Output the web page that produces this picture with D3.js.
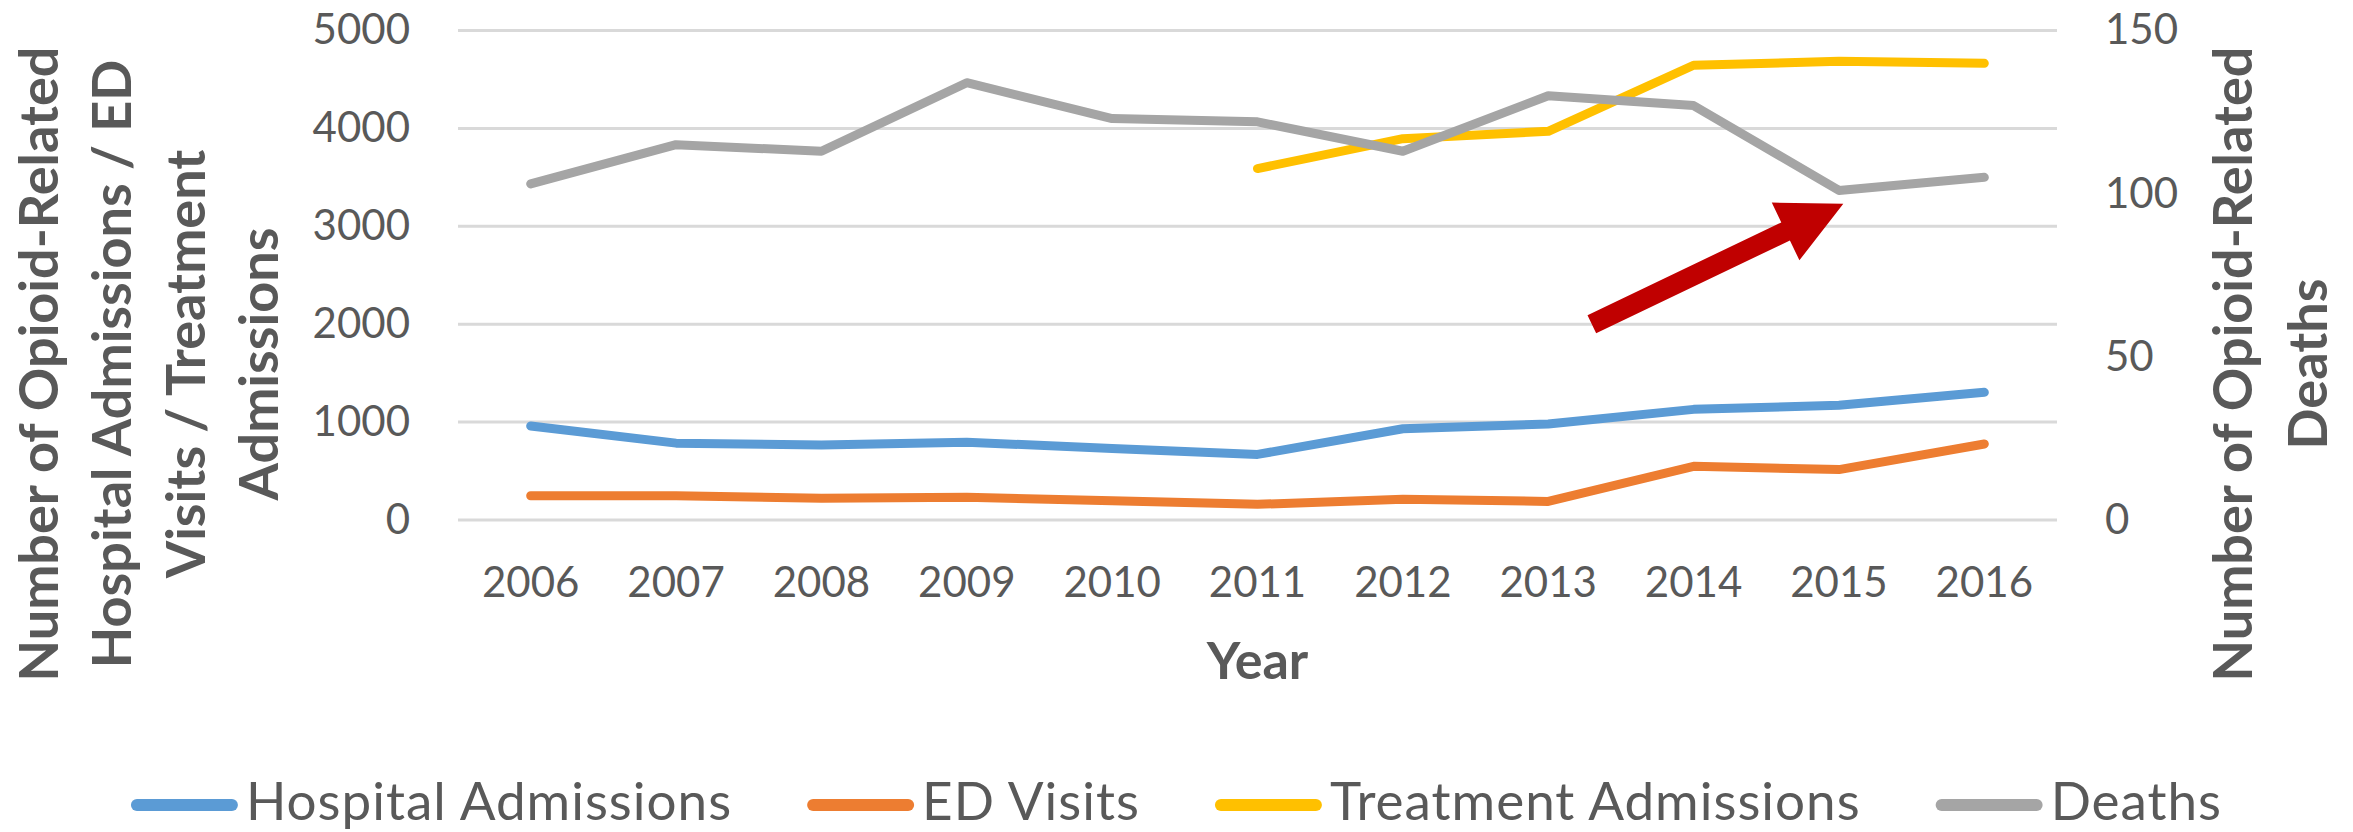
<!DOCTYPE html>
<html>
<head>
<meta charset="utf-8">
<script src="https://cdn.jsdelivr.net/npm/d3@7"></script>
<style>
  body { margin: 0; background: #fff; }
  text { font-family: Lato, "Open Sans", sans-serif; fill: #595959; }
</style>
</head>
<body>
<div id="chart"></div>
<script>
var width = 2353;
var height = 832;

// data
var years = [2006, 2007, 2008, 2009, 2010, 2011, 2012, 2013, 2014, 2015, 2016];
var hospital = [960, 785, 765, 795, 730, 670, 932, 980, 1130, 1172, 1304];
var edVisits = [248, 248, 222, 233, 197, 160, 211, 190, 548, 515, 776];
var treatment = [null, null, null, null, null, 3590, 3895, 3970, 4645, 4685, 4665];
var deaths = [103, 115, 113, 134, 123, 122, 113, 130, 127, 101, 105];

var leftTicks = [0, 1000, 2000, 3000, 4000, 5000];
var rightTicks = [0, 50, 100, 150];

var seriesNames = ["Hospital Admissions", "ED Visits", "Treatment Admissions", "Deaths"];
var seriesColors = ["#5B9BD5", "#ED7D31", "#FFC000", "#A5A5A5"];

var leftTitle = ["Number of Opioid-Related", "Hospital Admissions / ED", "Visits / Treatment", "Admissions"];
var rightTitle = ["Number of Opioid-Related", "Deaths"];

// red annotation arrow, in year / left-axis units
var arrowFrom = [2013.3, 2000];
var arrowTo = [2015.03, 3230];

var plot = { left: 458, right: 2057, top: 30.5, bottom: 520 };

var svg = d3
  .select("#chart")
  .append("svg")
  .attr("width", width)
  .attr("height", height);

var x = d3.scaleBand()
  .domain(years)
  .range([plot.left, plot.right]);
var bw = x.bandwidth();
var xYear = d3.scaleLinear()
  .domain([years[0], years[years.length - 1]])
  .range([x(years[0]) + bw / 2, x(years[years.length - 1]) + bw / 2]);

var yLeft = d3.scaleLinear().domain([0, 5000]).range([plot.bottom, plot.top]);
var yRight = d3.scaleLinear().domain([0, 150]).range([plot.bottom, plot.top]);

// gridlines
svg.append("g")
  .selectAll("line")
  .data(leftTicks)
  .enter()
  .append("line")
  .attr("x1", plot.left)
  .attr("x2", plot.right)
  .attr("y1", d => yLeft(d))
  .attr("y2", d => yLeft(d))
  .attr("stroke", "#D9D9D9")
  .attr("stroke-width", 3);

// left axis
var leftAxis = svg.append("g")
  .attr("transform", "translate(" + plot.left + ",0)")
  .call(d3.axisLeft(yLeft).tickValues(leftTicks).tickFormat(d3.format("d")).tickSize(0).tickPadding(48));
leftAxis.select(".domain").remove();
leftAxis.selectAll("text")
  .style("font-family", "Lato")
  .style("font-size", "42px")
  .attr("fill", "#595959");

// right axis
var rightAxis = svg.append("g")
  .attr("transform", "translate(" + plot.right + ",0)")
  .call(d3.axisRight(yRight).tickValues(rightTicks).tickFormat(d3.format("d")).tickSize(0).tickPadding(48));
rightAxis.select(".domain").remove();
rightAxis.selectAll("text")
  .style("font-family", "Lato")
  .style("font-size", "42px")
  .attr("fill", "#595959");

// x axis
var xAxis = svg.append("g")
  .attr("transform", "translate(0," + plot.bottom + ")")
  .call(d3.axisBottom(x).tickSize(0));
xAxis.select(".domain").remove();
xAxis.selectAll("text")
  .attr("y", 77)
  .attr("dy", 0)
  .style("font-family", "Lato")
  .style("font-size", "42px")
  .attr("fill", "#595959");

// axis titles
svg.append("text")
  .attr("x", (plot.left + plot.right) / 2)
  .attr("y", 679)
  .attr("text-anchor", "middle")
  .style("font-size", "52px")
  .style("font-weight", "bold")
  .text("Year");

svg.append("g")
  .selectAll("text")
  .data(leftTitle)
  .enter()
  .append("text")
  .attr("transform", (d, i) => "translate(" + (58 + i * 73.3) + ",364) rotate(-90)")
  .attr("text-anchor", "middle")
  .style("font-size", "54px")
  .style("font-weight", "bold")
  .text(d => d);

svg.append("g")
  .selectAll("text")
  .data(rightTitle)
  .enter()
  .append("text")
  .attr("transform", (d, i) => "translate(" + (2252 + i * 75) + ",364) rotate(-90)")
  .attr("text-anchor", "middle")
  .style("font-size", "54px")
  .style("font-weight", "bold")
  .text(d => d);

// series lines
function drawLine(values, scale, color) {
  var line = d3.line()
    .defined(d => d != null)
    .x((d, i) => x(years[i]) + bw / 2)
    .y(d => scale(d));
  svg.append("path")
    .datum(values)
    .attr("d", line)
    .attr("fill", "none")
    .attr("stroke", color)
    .attr("stroke-width", 9)
    .attr("stroke-linecap", "round")
    .attr("stroke-linejoin", "round");
}

drawLine(hospital, yLeft, seriesColors[0]);
drawLine(edVisits, yLeft, seriesColors[1]);
drawLine(treatment, yLeft, seriesColors[2]);
drawLine(deaths, yRight, seriesColors[3]);

// annotation arrow
function drawArrow(from, to) {
  var x0 = xYear(from[0]), y0 = yLeft(from[1]);
  var x1 = xYear(to[0]), y1 = yLeft(to[1]);
  var len = Math.hypot(x1 - x0, y1 - y0);
  var ux = (x1 - x0) / len, uy = (y1 - y0) / len;
  var nx = -uy, ny = ux;
  var shaft = 10, head = 32, headLen = 64;
  var bx = x1 - ux * headLen, by = y1 - uy * headLen;
  var pts = [
    [x0 + nx * shaft, y0 + ny * shaft],
    [bx + nx * shaft, by + ny * shaft],
    [bx + nx * head, by + ny * head],
    [x1, y1],
    [bx - nx * head, by - ny * head],
    [bx - nx * shaft, by - ny * shaft],
    [x0 - nx * shaft, y0 - ny * shaft]
  ];
  svg.append("polygon")
    .attr("points", pts.map(p => p.join(",")).join(" "))
    .attr("fill", "#C00000");
}
drawArrow(arrowFrom, arrowTo);

// legend
var legend = svg.append("g");
var lx = 0;
seriesNames.forEach(function (name, i) {
  var item = legend.append("g").attr("transform", "translate(" + lx + ",0)");
  item.append("line")
    .attr("x1", 6).attr("x2", 101)
    .attr("y1", 805).attr("y2", 805)
    .attr("stroke", seriesColors[i])
    .attr("stroke-width", 12)
    .attr("stroke-linecap", "round");
  var t = item.append("text")
    .attr("x", 115)
    .attr("y", 820)
    .style("font-size", "53px")
    .style("letter-spacing", "1px")
    .text(name);
  lx += 115 + t.node().getComputedTextLength() + 75;
});
var legendWidth = lx - 75;
legend.attr("transform", "translate(" + (width / 2 - legendWidth / 2) + ",0)");
</script>
</body>
</html>
